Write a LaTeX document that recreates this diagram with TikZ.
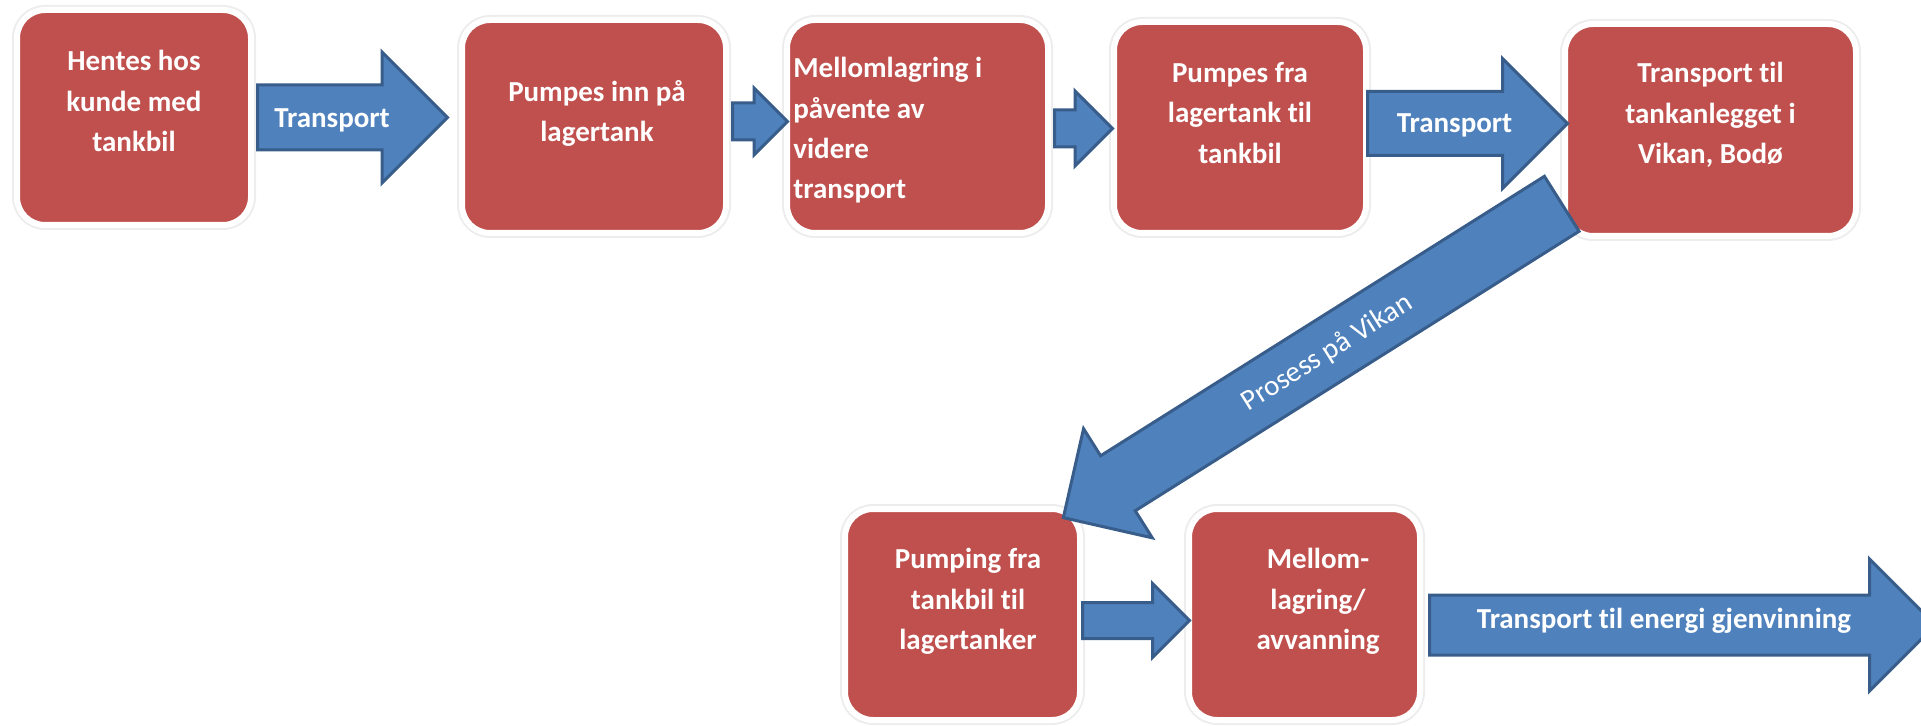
\documentclass[tikz,border=0pt]{standalone}
\usepackage{fontspec}
\setmainfont[Ligatures=NoCommon]{Carlito}
\usetikzlibrary{shapes.arrows}
\definecolor{boxred}{HTML}{C0504D}
\definecolor{flowblue}{HTML}{4F81BD}
\definecolor{flowedge}{HTML}{385D8A}
\newdimen\pxu \pxu=0.02cm
\begin{document}
\begin{tikzpicture}[x=0.02cm, y=-0.02cm,
    stepbox/.style={rectangle, rounded corners=28\pxu, fill=boxred, draw=white,
      line width=6\pxu, preaction={draw=black!7, line width=10\pxu}},
    steptext/.style={text=white, font=\fontsize{16.5}{23}\selectfont\bfseries,
      align=center, inner sep=0pt, anchor=north},
    flow/.style={single arrow, fill=flowblue, draw=flowedge, line width=3\pxu,
      inner xsep=0pt, anchor=tail},
    flowtext/.style={text=white, font=\fontsize{16.5}{23}\selectfont\bfseries,
      inner sep=0pt, anchor=base}]
  \useasboundingbox (0,0) rectangle (1921,726);
  \node[stepbox, minimum width=234\pxu, minimum height=215\pxu] (1) at (134,117.5) {};
  \node[stepbox, minimum width=264\pxu, minimum height=213\pxu] (2) at (594,126.5) {};
  \node[stepbox, minimum width=261\pxu, minimum height=213\pxu] (3) at (917.5,126.5) {};
  \node[stepbox, minimum width=252\pxu, minimum height=211\pxu] (4) at (1240,127.5) {};
  \node[stepbox, minimum width=291\pxu, minimum height=212\pxu] (5) at (1710.5,130) {};
  \node[stepbox, minimum width=235\pxu, minimum height=211\pxu] (6) at (962.5,614.5) {};
  \node[stepbox, minimum width=231\pxu, minimum height=211\pxu] (7) at (1304.5,614.5) {};
  \node[steptext] (t1) at (134,50) {Hentes hos\\kunde med\\tankbil};
  \node[steptext] (t2) at (597,80) {Pumpes inn på\\lagertank};
  \node[steptext, align=left, anchor=north west] (t3) at (793,57) {Mellomlagring i\\påvente av\\videre\\transport};
  \node[steptext] (t4) at (1240,62) {Pumpes fra\\lagertank til\\tankbil};
  \node[steptext] (t5) at (1710.5,62) {Transport til\\tankanlegget i\\Vikan, Bodø};
  \node[steptext] (t6) at (968,548) {Pumping fra\\tankbil til\\lagertanker};
  \node[steptext] (t7) at (1318,548) {Mellom-\\lagring/\\avvanning};
  \node[flow, minimum height=190\pxu, inner ysep=31\pxu, single arrow head extend=33\pxu] (a1) at (256,117.5) {};
  \node[flow, minimum height=55\pxu, inner ysep=17\pxu, single arrow head extend=15\pxu] (a2) at (731,121.5) {};
  \node[flow, minimum height=58\pxu, inner ysep=17\pxu, single arrow head extend=19\pxu] (a3) at (1053,128.5) {};
  \node[flow, minimum height=200\pxu, inner ysep=30.5\pxu, single arrow head extend=33\pxu] (a4) at (1366,123.5) {};
  \node[flow, minimum height=589\pxu, inner ysep=31\pxu, single arrow head extend=32\pxu,
    rotate=32.2, shape border rotate=180] (a5) at (1563,203) {};
  \node[flow, minimum height=107\pxu, inner ysep=16.5\pxu, single arrow head extend=19\pxu] (a6) at (1081,620.5) {};
  \node[flow, minimum height=506\pxu, inner ysep=28.5\pxu, single arrow head extend=36\pxu] (a7) at (1428,625) {};
  \node[flowtext] (l1) at (332,128) {Transport};
  \node[flowtext] (l4) at (1454.5,133) {Transport};
  \node[flowtext, font=\fontsize{16.5}{23}\selectfont, anchor=center, rotate=32.2] (l5) at (1327,353) {Prosess på Vikan};
  \node[flowtext] (l7) at (1664,628) {Transport til energi gjenvinning};
\end{tikzpicture}
\end{document}
